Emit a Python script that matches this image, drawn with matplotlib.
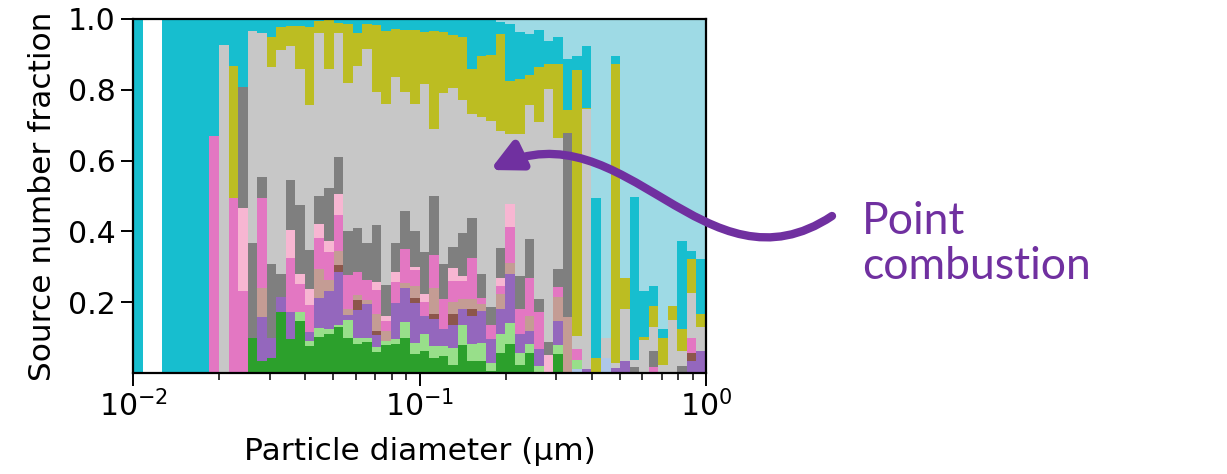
import numpy as np
import matplotlib.pyplot as plt
from matplotlib.path import Path
from matplotlib.patches import FancyArrowPatch

# 60 log-spaced size bins between 0.01 and 1 um
bin_edges = np.logspace(-2, 0, 61)

# source number fractions per bin (stacked bottom -> top)
light_blue = [0, 0, 0, 0, 0, 0, 0, 0, 0, 0,
              0, 0, 0, 0, 0, 0, 0, 0, 0, 0,
              0, 0, 0, 0, 0, 0, 0, 0, 0, 0,
              0, 0, 0, 0, 0, 0, 0, 0, 0, 0,
              0, 0, 0, 0, 0, 0, .012, 0, 0, .043,
              0, 0, 0, 0, 0, 0, 0, 0, 0, 0]
green = [0, 0, 0, 0, 0, 0, 0, 0, 0, 0,
         0, 0, .10, .033, .042, .172, .095, .147, .076, .101,
         .109, .13, .10, .083, .087, .06, .078, .081, .10, .055,
         .062, .043, .048, .024, .079, .033, .033, .005, .057, .081,
         .024, .057, 0, 0, .055, 0, 0, 0, 0, 0,
         0, 0, 0, 0, 0, 0, 0, 0, 0, 0]
light_green = [0, 0, 0, 0, 0, 0, 0, 0, 0, 0,
               0, 0, 0, 0, 0, 0, 0, .025, .014, .027,
               .016, .005, .049, .017, .013, .014, .012, .016, .044, .03,
               .047, .033, .028, .047, .058, .048, .052, .024, .054, .061,
               .033, .024, .019, 0, .023, 0, .026, 0, 0, 0,
               0, 0, 0, 0, 0, 0, 0, 0, 0, 0]
purple = [0, 0, 0, 0, 0, 0, 0, 0, 0, 0,
          0, 0, 0, .125, .057, .043, .077, 0, .026, .084,
          .106, .15, .016, .078, .094, .033, 0, .10, .097, .112,
          .052, .076, .047, .066, .043, .08, .09, .066, .069, .137,
          .052, .037, .049, 0, .069, 0, 0, .012, 0, 0,
          .015, .033, 0, 0, 0, 0, 0, 0, .033, .062]
brown = [0, 0, 0, 0, 0, 0, 0, 0, 0, 0,
         0, 0, 0, 0, 0, 0, 0, 0, 0, 0,
         0, .019, 0, .028, 0, .012, 0, 0, 0, .016,
         0, .014, 0, .029, 0, .019, 0, 0, 0, 0,
         0, 0, 0, 0, 0, 0, 0, 0, 0, 0,
         0, 0, 0, 0, 0, 0, 0, 0, .024, 0]
light_brown = [0, 0, 0, 0, 0, 0, 0, 0, 0, 0,
               0, 0, 0, .083, 0, 0, 0, 0, 0, .083,
               .033, .041, .017, .013, .012, .049, .029, 0, .014, .033,
               0, .075, 0, .035, .028, .028, .019, 0, .042, .033,
               0, .042, 0, 0, .068, .158, 0, 0, 0, 0,
               0, 0, 0, 0, 0, 0, 0, 0, 0, 0]
pink = [0, 0, 0, 0, 0, 0, 0, 0, .67, 0,
        .495, .231, 0, .253, 0, 0, .154, .08, .075, .085,
        .078, .101, .094, .066, .058, .066, .028, .06, .096, .045,
        .04, .092, .085, .059, .052, .116, .017, .042, .024, .101,
        .073, .109, .104, 0, .028, 0, .03, 0, 0, 0,
        0, 0, 0, 0, .017, 0, 0, 0, .043, 0]
light_pink = [0, 0, 0, 0, 0, 0, 0, 0, 0, 0,
              0, .234, 0, 0, 0, 0, .077, .027, .045, .042,
              .031, .059, 0, 0, 0, .023, .013, .028, 0, .009,
              .021, 0, 0, .038, .014, 0, 0, 0, .023, .064,
              0, 0, 0, .052, 0, 0, 0, 0, 0, 0,
              0, 0, 0, 0, 0, 0, 0, 0, 0, 0]
gray = [0, 0, 0, 0, 0, 0, 0, 0, 0, 0,
        0, .343, .268, .06, .21, .065, .143, .196, .111, .078,
        .151, .104, .125, .125, .104, .16, .09, .083, .107, .101,
        .121, .167, .099, .058, .122, .113, .068, .049, .083, 0,
        .092, .109, .038, .035, .05, .521, 0, 0, 0, 0,
        0, 0, .017, 0, .045, 0, 0, .019, 0, 0]
light_gray = [0, 0, 0, 0, 0, 0, 0, 0, 0, .926,
              0, 0, .597, .406, .556, .632, .379, .384, .411, .46,
              .335, .351, .418, .456, .547, .378, .51, .467, .337, .359,
              .473, .189, .483, .45, .375, .296, .443, .525, .332, .198,
              .401, .38, .498, .715, .372, 0, .036, .734, 0, .057,
              .013, .149, .019, .093, .069, .024, .149, .043, .125, .069]
olive = [0, 0, 0, 0, 0, 0, 0, 0, 0, 0,
         .373, 0, 0, 0, .085, .066, .056, .122, .22, .033,
         .138, .03, .167, .094, .071, .188, .207, .137, .174, .209,
         .146, .276, .172, .15, .177, .125, .174, .188, .275, .15,
         .155, .084, .157, .072, .208, .064, .752, .004, .043, 0,
         .845, .087, 0, .009, .058, .076, .04, .061, .096, .037]
cyan = [1, 0, 0, 1, 1, 1, 1, 1, .33, .074,
        .132, .192, .035, .04, .047, .022, .019, .019, .022, .007,
        .003, .01, .014, .04, .014, .019, .033, .028, .031, .031,
        .038, .035, .038, .044, .052, .142, .104, .101, .032, .161,
        .132, .115, .104, .065, .075, .143, .04, .174, .45, 0,
        .023, 0, .462, .13, .056, .025, 0, .25, .024, .153]
light_cyan = [0, 0, 0, 0, 0, 0, 0, 0, 0, 0,
              0, 0, 0, 0, 0, 0, 0, 0, 0, 0,
              0, 0, 0, 0, 0, 0, 0, 0, 0, 0,
              0, 0, 0, 0, 0, 0, 0, 0, .009, .014,
              .038, .043, .031, .061, .052, .114, .104, .076, .507, .9,
              .104, .731, .502, .768, .755, .875, .811, .627, .655, .679]

sources = [
    (light_blue, '#aec7e8'),
    (green, '#2ca02c'),
    (light_green, '#98df8a'),
    (purple, '#9467bd'),
    (brown, '#8c564b'),
    (light_brown, '#c49c94'),
    (pink, '#e377c2'),
    (light_pink, '#f7b6d2'),
    (gray, '#7f7f7f'),
    (light_gray, '#c7c7c7'),
    (olive, '#bcbd22'),
    (cyan, '#17becf'),
    (light_cyan, '#9edae5'),
]

fig = plt.figure(figsize=(12.27, 4.74), dpi=100)
ax = fig.add_axes([133 / 1227, 1 - 373 / 474, 573 / 1227, 354 / 474])

left = bin_edges[:-1]
widths = np.diff(bin_edges)
bottom = np.zeros(len(left))
for vals, col in sources:
    vals = np.array(vals)
    ax.bar(left, vals, width=widths, bottom=bottom, align='edge',
           color=col, linewidth=0)
    bottom += vals

ax.set_xscale('log')
ax.set_xlim(0.01, 1)
ax.set_ylim(0, 1)
ax.set_yticks([0.2, 0.4, 0.6, 0.8, 1.0])
ax.set_yticklabels(['0.2', '0.4', '0.6', '0.8', '1.0'])
ax.tick_params(labelsize=21.5, width=1.4, length=9)
ax.tick_params(which='minor', width=1.1, length=5)
for s in ax.spines.values():
    s.set_linewidth(1.6)

ax.set_xlabel('Particle diameter (µm)', fontsize=22.5, labelpad=10)
ax.set_ylabel('Source number fraction', fontsize=22.5, labelpad=8)

# curved annotation arrow (figure pixel coordinates -> fractions)
W, H = 1227, 474
pts = [(832, 216), (705, 300), (625, 105), (490, 170)]
verts = [(x / W, 1 - y / H) for x, y in pts]
path = Path(verts, [Path.MOVETO, Path.CURVE4, Path.CURVE4, Path.CURVE4])
arrow = FancyArrowPatch(path=path, arrowstyle='-|>', mutation_scale=45,
                        lw=6, color='#7030a0', transform=fig.transFigure)
fig.add_artist(arrow)

fig.text(862 / W, 1 - 244 / H, 'Point\ncombustion', color='#7030a0',
         fontsize=32, family='Lato', va='center', ha='left', linespacing=1.15)

fig.savefig('out.png', dpi=100)
